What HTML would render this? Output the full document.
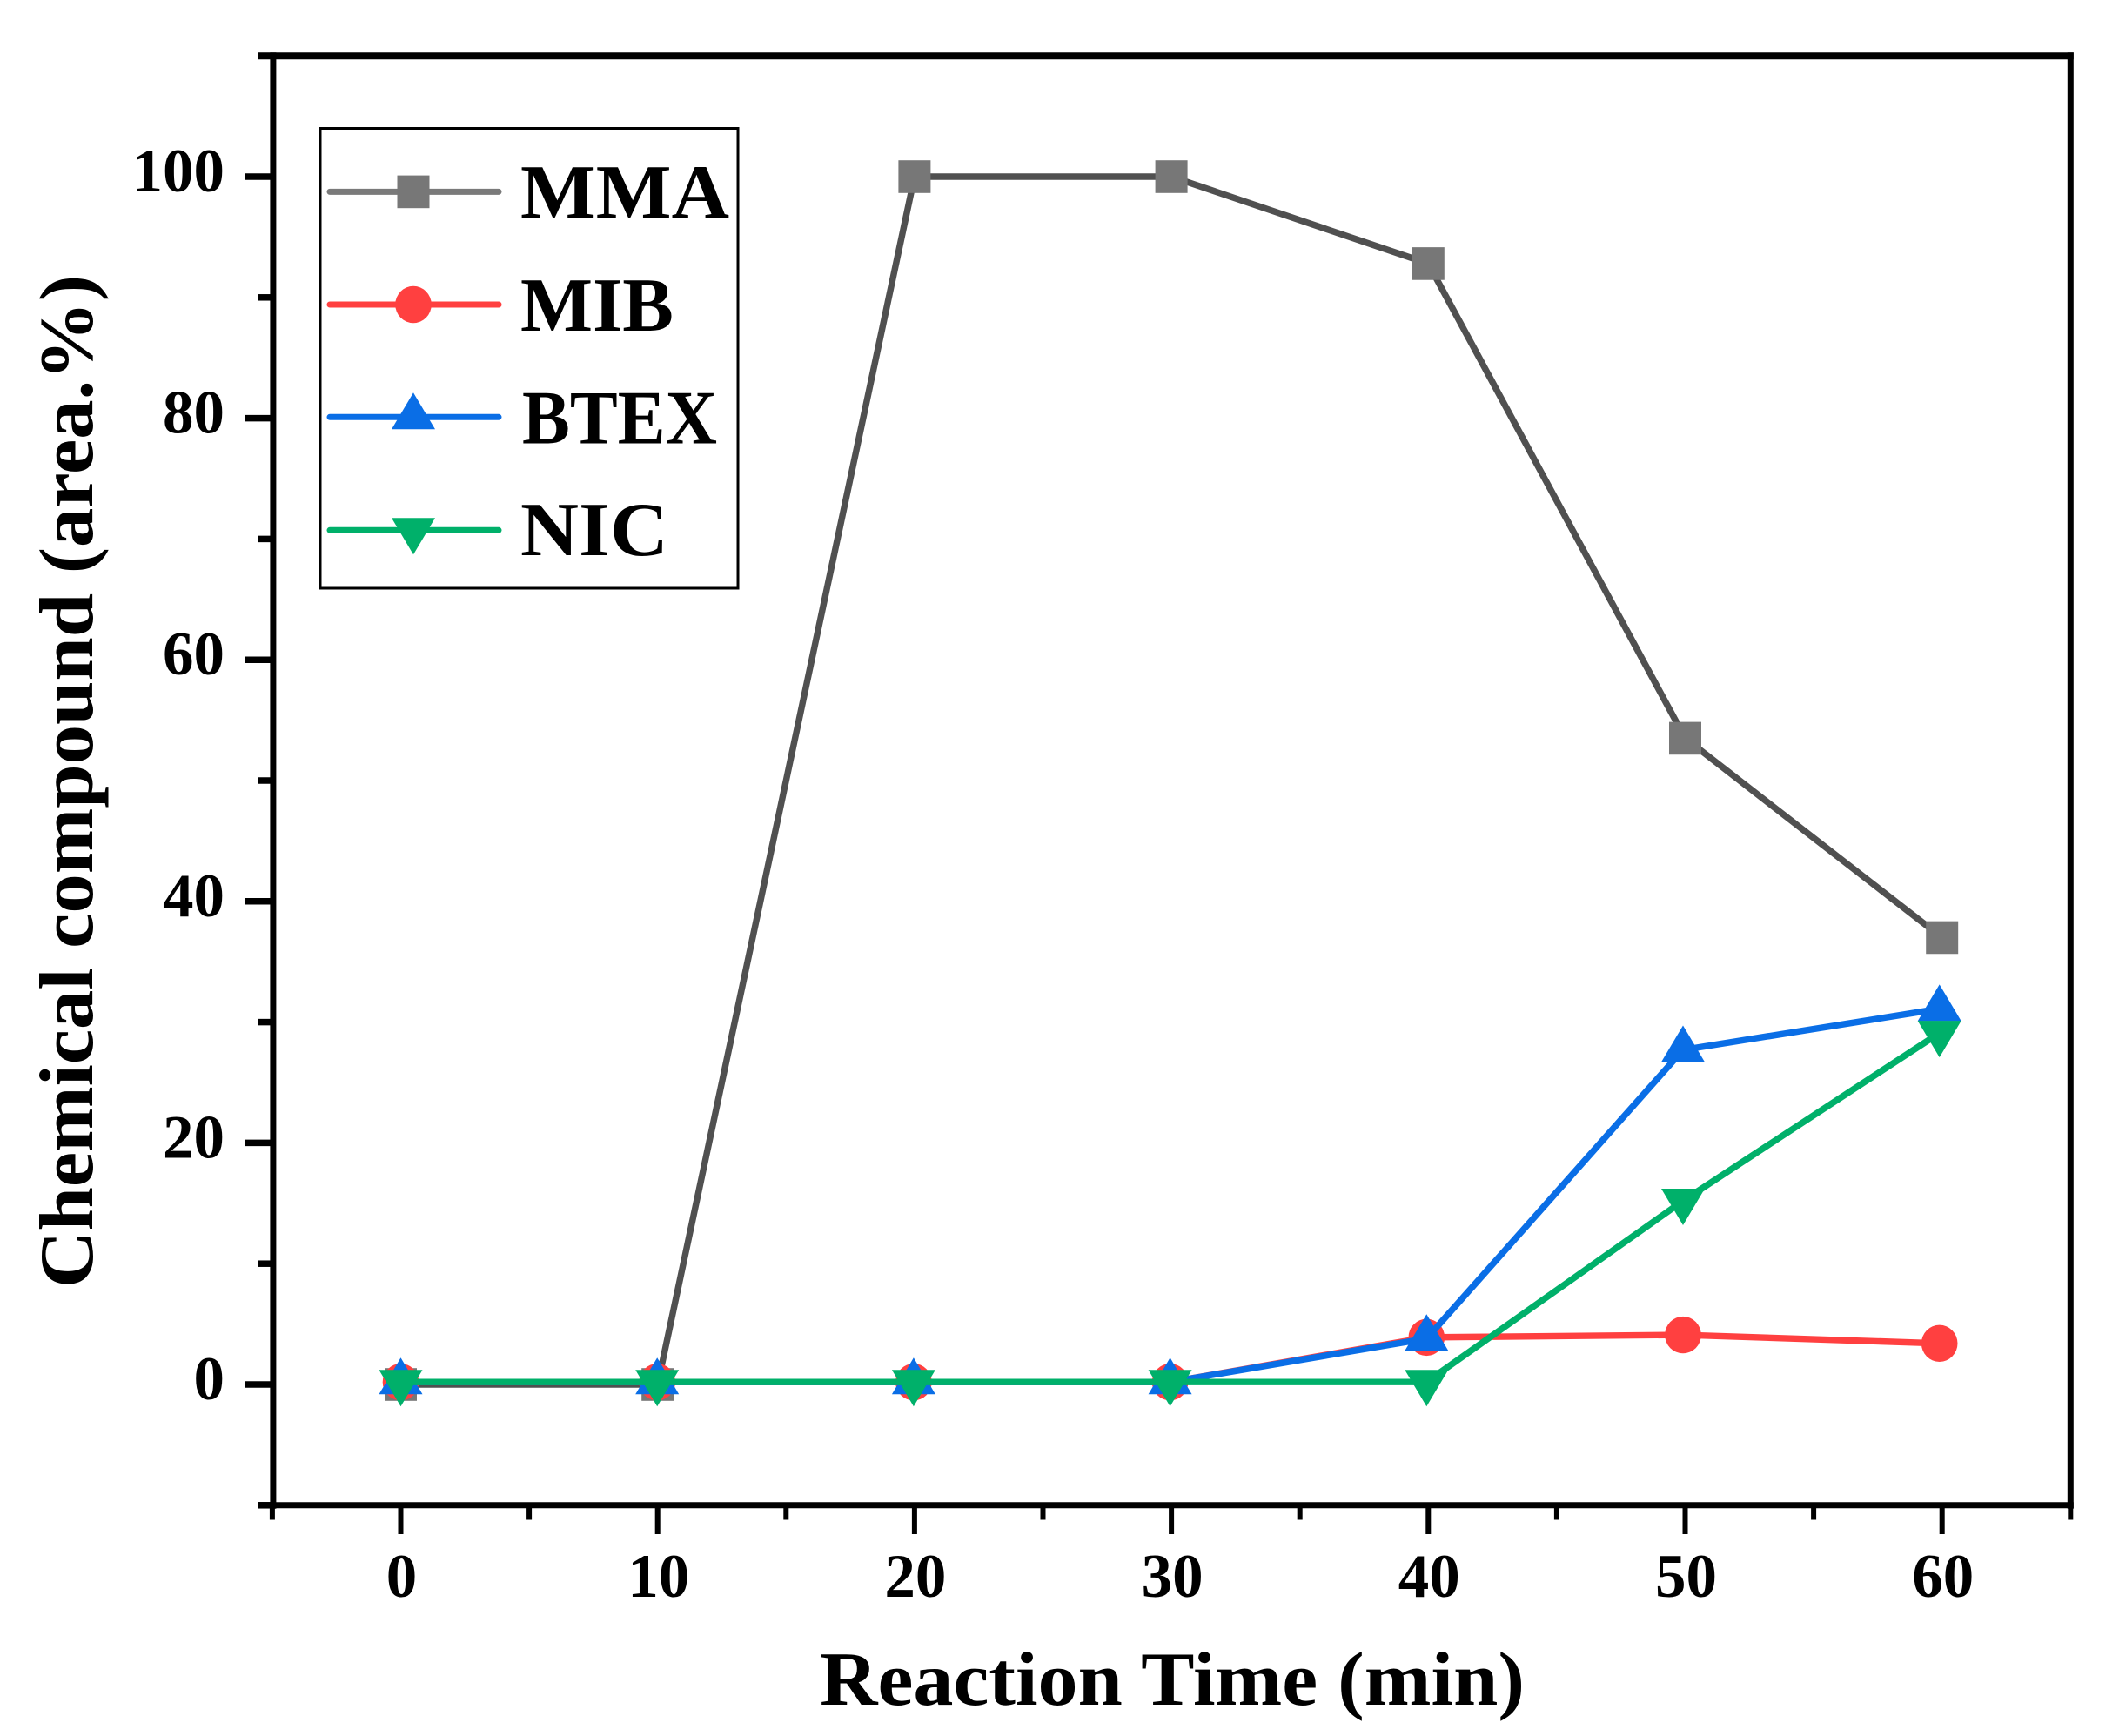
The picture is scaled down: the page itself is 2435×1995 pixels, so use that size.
<!DOCTYPE html>
<html lang="en">
<head>
<meta charset="utf-8">
<title>Chemical compound vs reaction time</title>
<style>
html,body{margin:0;padding:0;background:#fff;width:2435px;height:1995px;overflow:hidden}
svg{display:block}
text{font-family:"Liberation Serif",serif;font-weight:bold;fill:#000}
</style>
</head>
<body>
<svg id="chart" xmlns="http://www.w3.org/2000/svg" width="2435" height="1995" viewBox="0 0 2435 1995">
<rect x="0" y="0" width="2435" height="1995" fill="#fff"/>
<g id="axes"></g>
<g id="series"></g>
<g id="legend"></g>
<text x="942" y="1959" font-size="88" textLength="810" lengthAdjust="spacingAndGlyphs">Reaction Time (min)</text>
<text transform="translate(106,1480) rotate(-90)" x="0" y="0" font-size="88" textLength="1164" lengthAdjust="spacingAndGlyphs">Chemical compound (area.%)</text>
</svg>
<script>
const reactionTimes = [0, 10, 20, 30, 40, 50, 60];
const mmaValues = [0, 0, 100, 100, 92.8, 53.5, 37.0];
const mibValues = [0.2, 0.2, 0.2, 0.2, 3.9, 4.1, 3.4];
const btexValues = [0.2, 0.2, 0.2, 0.2, 3.8, 27.7, 31.1];
const nicValues = [0.2, 0.2, 0.2, 0.2, 0.2, 15.2, 29.1];
const xMajorTicks = [0, 10, 20, 30, 40, 50, 60];
const xMinorTicks = [-5, 5, 15, 25, 35, 45, 55, 65];
const yMajorTicks = [0, 20, 40, 60, 80, 100];
const yMinorTicks = [-10, 10, 30, 50, 70, 90, 110];
const legendNames = ['MMA', 'MIB', 'BTEX', 'NIC'];

const NS = 'http://www.w3.org/2000/svg';
const axesG = document.getElementById('axes');
const seriesG = document.getElementById('series');
const legendG = document.getElementById('legend');

function xAxis(t) { return 460.5 + 29.52 * t; }
function xData(t) { return 460.5 + 29.47 * t; }
function yAxis(v) { return 1591 - 13.88 * v; }

function make(tag, attrs, parent) {
  const el = document.createElementNS(NS, tag);
  for (const k in attrs) el.setAttribute(k, attrs[k]);
  parent.appendChild(el);
  return el;
}

function drawMarker(kind, cx, cy, color, parent) {
  if (kind === 'square') {
    return make('rect', {x: cx - 18.5, y: cy - 18.8, width: 37, height: 37.6, fill: color}, parent);
  }
  if (kind === 'circle') {
    return make('ellipse', {cx: cx, cy: cy, rx: 20.8, ry: 21.2, fill: color}, parent);
  }
  if (kind === 'up') {
    return make('polygon', {points: (cx) + ',' + (cy - 28) + ' ' + (cx + 25) + ',' + (cy + 14) + ' ' + (cx - 25) + ',' + (cy + 14), fill: color}, parent);
  }
  return make('polygon', {points: (cx) + ',' + (cy + 28) + ' ' + (cx + 25) + ',' + (cy - 14) + ' ' + (cx - 25) + ',' + (cy - 14), fill: color}, parent);
}

const xLeft = xAxis(-5), xRight = xAxis(65), yTop = yAxis(110), yBottom = yAxis(-10);

const frameLeft = make('line', {x1: xLeft + 1, x2: xLeft + 1, y1: yTop - 4, y2: yBottom + 4, stroke: '#000', 'stroke-width': 7}, axesG);


const frameRight = make('line', {x1: xRight, x2: xRight, y1: yTop - 4, y2: yBottom + 4, stroke: '#000', 'stroke-width': 7}, axesG);


const frameTop = make('line', {x1: 297, x2: xRight + 3.5, y1: yTop, y2: yTop, stroke: '#000', 'stroke-width': 8}, axesG);


const frameBottom = make('line', {x1: 297, x2: xRight + 3.5, y1: yBottom, y2: yBottom, stroke: '#000', 'stroke-width': 7}, axesG);



xMajorTicks.forEach(function (t) {
  const tick = make('line', {x1: xAxis(t), x2: xAxis(t), y1: yBottom, y2: 1763, stroke: '#000', 'stroke-width': 6}, axesG);
  
  
  const label = make('text', {x: xAxis(t) + 1, y: 1835, 'font-size': 71, 'text-anchor': 'middle'}, axesG);
  label.textContent = String(t);
  
  
});
xMinorTicks.forEach(function (t) {
  const tick = make('line', {x1: xAxis(t), x2: xAxis(t), y1: yBottom, y2: 1746.5, stroke: '#000', 'stroke-width': 6}, axesG);
  
  
});
yMajorTicks.forEach(function (v) {
  const tick = make('line', {x1: 281, x2: xLeft, y1: yAxis(v), y2: yAxis(v), stroke: '#000', 'stroke-width': 7.5}, axesG);
  
  
  const label = make('text', {x: 258, y: yAxis(v) + 17, 'font-size': 71, 'text-anchor': 'end'}, axesG);
  label.textContent = String(v);
  
  
});
yMinorTicks.forEach(function (v) {
  const tick = make('line', {x1: 297, x2: xLeft, y1: yAxis(v), y2: yAxis(v), stroke: '#000', 'stroke-width': 7.5}, axesG);
  
  
});

function drawSeries(values, xFn, lineColor, markerColor, kind, groupName, lineName, markerName) {
  const g = make('g', {}, seriesG);
  
  
  const pts = values.map(function (v, i) { return xFn(reactionTimes[i]) + ',' + yAxis(v); }).join(' ');
  const line = make('polyline', {points: pts, fill: 'none', stroke: lineColor, 'stroke-width': 7.4, 'stroke-linejoin': 'round'}, g);
  
  
  values.forEach(function (v, i) {
    const m = drawMarker(kind, xFn(reactionTimes[i]), yAxis(v), markerColor, g);
    
    
  });
}

drawSeries(mmaValues, xAxis, '#505050', '#777777', 'square', 'series-mma', 'mma-line', 'mma-point');
drawSeries(mibValues, xData, '#ff4040', '#ff4040', 'circle', 'series-mib', 'mib-line', 'mib-point');
drawSeries(btexValues, xData, '#0a6ee6', '#0a6ee6', 'up', 'series-btex', 'btex-line', 'btex-point');
drawSeries(nicValues, xData, '#00b06a', '#00b06a', 'down', 'series-nic', 'nic-line', 'nic-point');

const legendBox = make('rect', {x: 368, y: 147.5, width: 480, height: 528.5, fill: '#fff', stroke: '#000', 'stroke-width': 3}, legendG);



const legendRows = [220.4, 350, 479.3, 609.3];
const legendBase = [250, 380, 509.6, 638];
const legendStart = [598, 598, 600, 598];
const legendWidth = [240, 176, 224, 170];
const legendLine = ['#7a7a7a', '#ff4040', '#0a6ee6', '#00b06a'];
const legendMark = ['#777777', '#ff4040', '#0a6ee6', '#00b06a'];
const legendKind = ['square', 'circle', 'up', 'down'];

legendNames.forEach(function (name, i) {
  const entry = make('g', {}, legendG);
  
  
  const swatch = make('line', {x1: 379, x2: 573, y1: legendRows[i], y2: legendRows[i], stroke: legendLine[i], 'stroke-width': 7, 'stroke-linecap': 'round'}, entry);
  
  
  const mark = drawMarker(legendKind[i], 475, legendRows[i], legendMark[i], entry);
  
  
  const label = make('text', {x: legendStart[i], y: legendBase[i], 'font-size': 88, textLength: legendWidth[i], lengthAdjust: 'spacingAndGlyphs'}, entry);
  label.textContent = name;
  
  
});
</script>
</body>
</html>
